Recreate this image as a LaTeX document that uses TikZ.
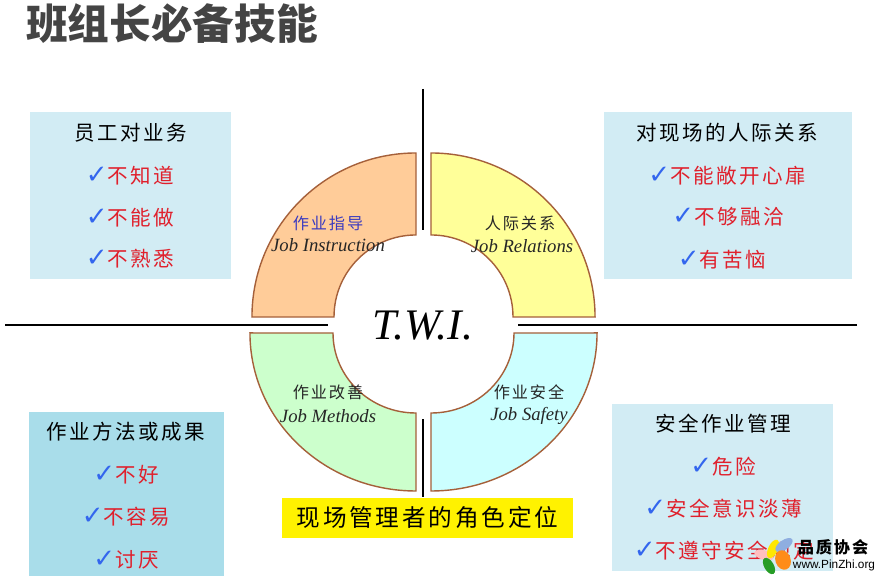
\documentclass[tikz,border=0pt]{standalone}
\usepackage{fontspec}
\usepackage{xcolor}
\usepackage{tikz}
\usetikzlibrary{arrows.meta, positioning, shapes.geometric}
\setmainfont{Liberation Serif}
\newfontfamily\cjkfont[LetterSpace=12]{Noto Sans CJK SC}
\newfontfamily\titlefont{Noto Sans CJK SC}
\newfontfamily\chkfont{DejaVu Sans}
\newfontfamily\logofont{Liberation Sans}
\definecolor{panelblue}{HTML}{D2ECF4}
\definecolor{paneldeep}{HTML}{A9DDEA}
\definecolor{tickblue}{HTML}{3366EE}
\definecolor{itemred}{HTML}{E0202C}
\definecolor{ringedge}{HTML}{A5603A}
\definecolor{ringorange}{HTML}{FFCC99}
\definecolor{ringyellow}{HTML}{FFFF99}
\definecolor{ringgreen}{HTML}{CCFFCC}
\definecolor{ringcyan}{HTML}{CCFFFF}
\definecolor{labelblue}{HTML}{3A3AC0}
\definecolor{titlegray}{HTML}{444444}
\newcommand{\chk}{{\color{tickblue}\fontsize{18.5}{18.5}\chkfont ✓}}

\begin{document}
\begin{tikzpicture}[
  x=0.025cm, y=0.025cm,
  panel/.style     = {fill=panelblue, inner sep=0pt},
  deeppanel/.style = {panel, fill=paneldeep},
  headtext/.style  = {font=\fontsize{14.6}{17}\cjkfont, text=black, inner sep=0pt},
  itemtext/.style  = {font=\fontsize{14.6}{17}\cjkfont, text=itemred, inner sep=0pt},
  ringcn/.style    = {font=\fontsize{11.5}{14}\cjkfont, text=black!85, inner sep=0pt},
  ringen/.style    = {font=\fontsize{13.3}{15}\itshape, text=black!85, inner sep=0pt},
  segment/.style   = {draw=ringedge, line width=1pt},
  axisline/.style  = {draw=black, line width=1.3pt},
  petal/.style     = {draw=none, minimum width=0.24cm, minimum height=0.5cm, shape=ellipse, inner sep=0pt},
]
\useasboundingbox (0,0) rectangle (880,576);

%% ==================== TITLE ====================
\node[font=\fontsize{29.6}{32}\bfseries\titlefont, text=titlegray, inner sep=0pt] (title) at (172,552) {班组长必备技能};

%% ==================== PANELS ====================
\node[panel, minimum width=5.025cm, minimum height=4.175cm] (panelTL) at (130.5,380.5) {};
\node[panel, minimum width=6.2cm, minimum height=4.175cm] (panelTR) at (728,380.5) {};
\node[deeppanel, minimum width=4.875cm, minimum height=4.1cm] (panelBL) at (126.5,82) {};
\node[panel, minimum width=5.525cm, minimum height=4.175cm] (panelBR) at (722.5,88.5) {};

%% Panel top left
\node[headtext] (headTL) at (131,443) {员工对业务};
\node[itemtext] (itemTLa) at (130,400) {\chk 不知道};
\node[itemtext] (itemTLb) at (130,358) {\chk 不能做};
\node[itemtext] (itemTLc) at (130,317) {\chk 不熟悉};

%% Panel top right
\node[headtext] (headTR) at (727,443) {对现场的人际关系};
\node[itemtext] (itemTRa) at (727,400) {\chk 不能敞开心扉};
\node[itemtext] (itemTRb) at (728,359) {\chk 不够融洽};
\node[itemtext] (itemTRc) at (722,316) {\chk 有苦恼};

%% Panel bottom left
\node[headtext] (headBL) at (126,144) {作业方法或成果};
\node[itemtext] (itemBLa) at (126,101) {\chk 不好};
\node[itemtext] (itemBLb) at (126,59) {\chk 不容易};
\node[itemtext] (itemBLc) at (126,16) {\chk 讨厌};

%% Panel bottom right
\node[headtext] (headBR) at (723,152) {安全作业管理};
\node[itemtext] (itemBRa) at (723,109) {\chk 危险};
\node[itemtext] (itemBRb) at (723,67) {\chk 安全意识淡薄};
\node[itemtext] (itemBRc) at (724,25) {\chk 不遵守安全规定};

%% ==================== RING ====================
\draw[segment, fill=ringorange] (416,423) arc[start angle=90, end angle=180, x radius=4.1cm, y radius=4.1cm]
      -- (334,259) arc[start angle=180, end angle=90, x radius=2.05cm, y radius=2.05cm] -- cycle;
\draw[segment, fill=ringyellow] (431,423) arc[start angle=90, end angle=0, x radius=4.1cm, y radius=4.1cm]
      -- (513,259) arc[start angle=0, end angle=90, x radius=2.05cm, y radius=2.05cm] -- cycle;
\draw[segment, fill=ringgreen] (416,85) arc[start angle=270, end angle=180, x radius=4.15cm, y radius=3.95cm]
      -- (333,243) arc[start angle=180, end angle=270, x radius=2.075cm, y radius=2cm] -- cycle;
\draw[segment, fill=ringcyan] (431,85) arc[start angle=270, end angle=360, x radius=4.15cm, y radius=3.95cm]
      -- (514,243) arc[start angle=360, end angle=270, x radius=2.075cm, y radius=2cm] -- cycle;

%% Ring labels
\node[ringcn, text=labelblue] (instrcn) at (328,353) {作业指导};
\node[ringen] (instren) at (328,331) {Job Instruction};
\node[ringcn] (relcn) at (520,353) {人际关系};
\node[ringen] (relen) at (522,330) {Job Relations};
\node[ringcn] (methcn) at (328,184) {作业改善};
\node[ringen] (methen) at (328,160) {Job Methods};
\node[ringcn] (safecn) at (529,184) {作业安全};
\node[ringen] (safeen) at (529,160) {Job Safety};
\node[font=\fontsize{31}{34}\itshape, inner sep=0pt] (twi) at (423,250) {T.W.I.};

%% Axis lines
\coordinate (axisN) at (423,487);
\coordinate (axisNi) at (423,346);
\coordinate (axisS) at (423,79);
\coordinate (axisSi) at (423,157);
\coordinate (axisW) at (5,251);
\coordinate (axisWi) at (328,251);
\coordinate (axisE) at (857,251);
\coordinate (axisEi) at (518,251);
\draw[axisline] (axisN) -- (axisNi);
\draw[axisline] (axisS) -- (axisSi);
\draw[axisline] (axisW) -- (axisWi);
\draw[axisline] (axisE) -- (axisEi);

%% ==================== ROLE BANNER ====================
\node[fill=yellow, minimum width=7.275cm, minimum height=1cm, inner sep=0pt,
      font=\fontsize{16.8}{20}\cjkfont] (role) at (427.5,58) {现场管理者的角色定位};

%% ==================== WATERMARK ====================
\node[petal, fill=pink, rotate=75] (petalC) at (764,21) {};
\node[petal, fill=yellow!90!orange, rotate=-25] (petalA) at (773,27) {};
\node[petal, fill=cyan!50!blue!45, rotate=-55] (petalB) at (784,31) {};
\node[petal, fill=green!55!black!85, rotate=-150, minimum height=0.45cm] (petalD) at (769,10) {};
\node[petal, fill=orange!90, minimum width=0.38cm, minimum height=0.5cm, rotate=20] (petalE) at (783,16) {};
\node[font=\fontsize{11.5}{13}\bfseries\cjkfont, inner sep=0pt] (logocn) at (833,29) {品质协会};
\node[font=\fontsize{8.4}{10}\logofont, inner sep=0pt] (logoen) at (834,11) {www.PinZhi.org};
\end{tikzpicture}
\end{document}
